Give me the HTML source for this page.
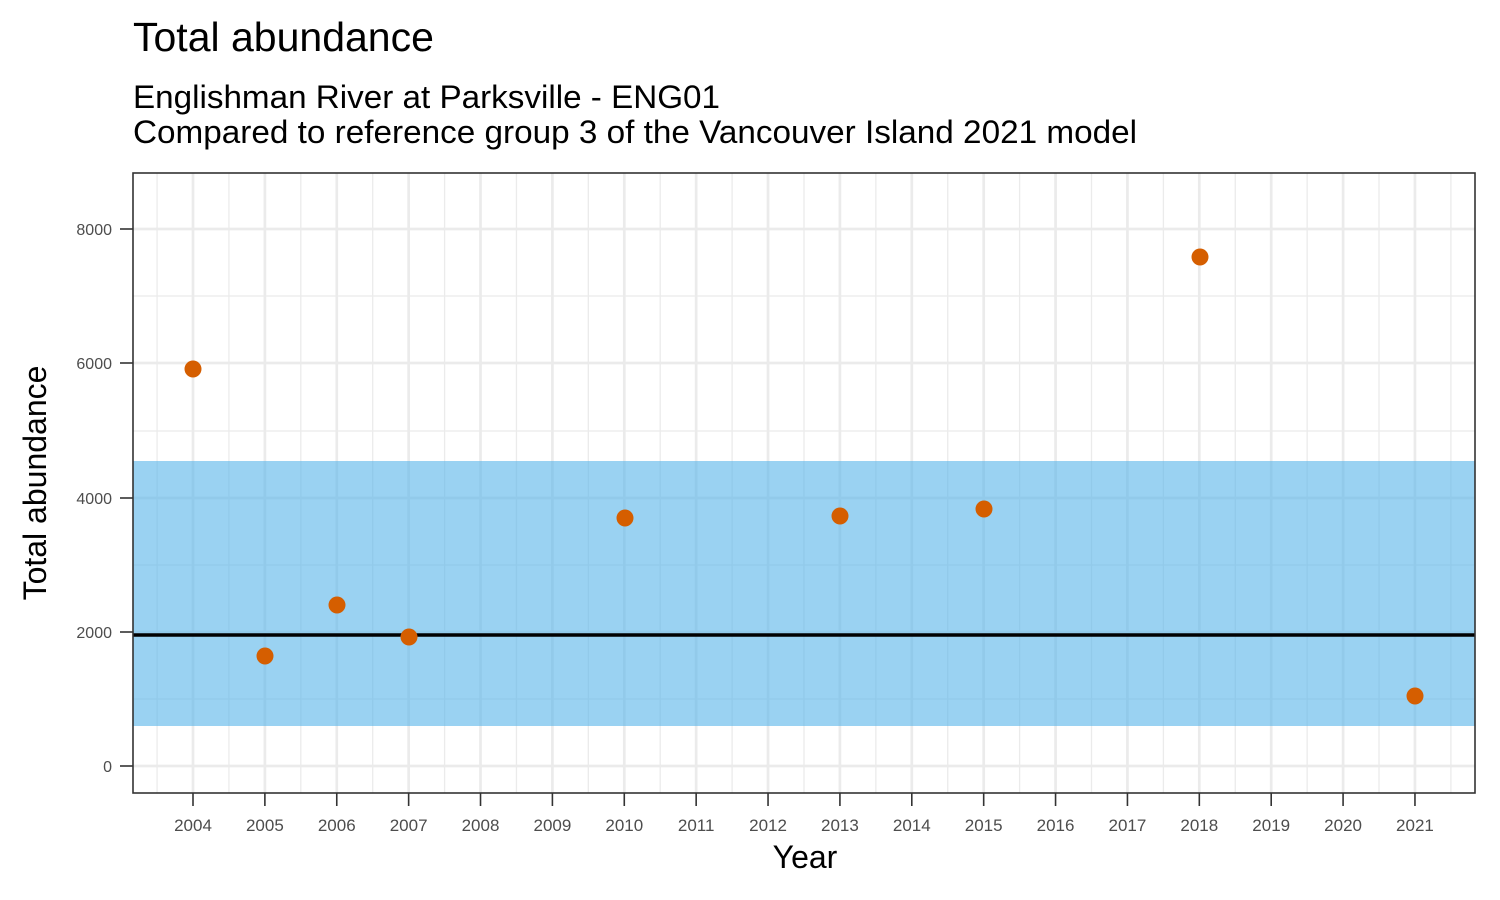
<!DOCTYPE html>
<html><head><meta charset="utf-8"><style>body{margin:0;background:#fff}svg{display:block}text{font-family:"Liberation Sans",Arial,sans-serif}</style></head>
<body>
<svg width="1500" height="900" viewBox="0 0 1500 900" xmlns="http://www.w3.org/2000/svg">
<rect width="1500" height="900" fill="#fff"/>
<text x="133" y="51" font-size="41" fill="#000">Total abundance</text>
<text x="133" y="108" font-size="32.5" fill="#000" textLength="587" lengthAdjust="spacingAndGlyphs">Englishman River at Parksville - ENG01</text>
<text x="133" y="143" font-size="32.5" fill="#000" textLength="1004" lengthAdjust="spacingAndGlyphs">Compared to reference group 3 of the Vancouver Island 2021 model</text>
<g id="grid">
<g stroke="#ebebeb" stroke-width="1.3">
<line x1="133" x2="1475" y1="699" y2="699"/><line x1="133" x2="1475" y1="565" y2="565"/><line x1="133" x2="1475" y1="431" y2="431"/><line x1="133" x2="1475" y1="296" y2="296"/>
</g>
<g stroke="#ebebeb" stroke-width="2.7">
<line x1="133" x2="1475" y1="766" y2="766"/><line x1="133" x2="1475" y1="632" y2="632"/><line x1="133" x2="1475" y1="498" y2="498"/><line x1="133" x2="1475" y1="363" y2="363"/><line x1="133" x2="1475" y1="229" y2="229"/>
</g>
<g id="vx"></g>
</g>
<rect x="133" y="461" width="1342" height="265" fill="#56b4e9" fill-opacity="0.6"/>
<line x1="133" x2="1475" y1="635" y2="635" stroke="#000" stroke-width="3.5"/>
<g fill="#d55e00">
<circle cx="193" cy="369" r="8.5"/><circle cx="265" cy="656" r="8.5"/><circle cx="337" cy="605" r="8.5"/><circle cx="409" cy="637" r="8.5"/><circle cx="625" cy="518" r="8.5"/><circle cx="840" cy="516" r="8.5"/><circle cx="984" cy="509" r="8.5"/><circle cx="1200" cy="257" r="8.5"/><circle cx="1415" cy="696" r="8.5"/>
</g>
<rect x="133" y="173" width="1342" height="620" fill="none" stroke="#333" stroke-width="1.6"/>
<g font-size="16" fill="#4d4d4d" text-anchor="end">
<text x="112" y="772">0</text><text x="112" y="638">2000</text><text x="112" y="504">4000</text><text x="112" y="369">6000</text><text x="112" y="235">8000</text>
</g>
<g stroke="#333" stroke-width="1.6">
<line x1="120" x2="133" y1="766" y2="766"/><line x1="120" x2="133" y1="632" y2="632"/><line x1="120" x2="133" y1="498" y2="498"/><line x1="120" x2="133" y1="363" y2="363"/><line x1="120" x2="133" y1="229" y2="229"/>
</g>
<g id="xt" font-size="17" fill="#4d4d4d" text-anchor="middle"></g>
<g id="xtk" stroke="#333" stroke-width="1.6"></g>
<text x="805" y="868" font-size="32" text-anchor="middle" fill="#000">Year</text>
<text transform="translate(46,483) rotate(-90)" font-size="32" text-anchor="middle" fill="#000">Total abundance</text>
<script>
var ns="http://www.w3.org/2000/svg",vx=document.getElementById("vx"),xt=document.getElementById("xt"),xtk=document.getElementById("xtk");
for(var i=-1;i<=18;i++){
 var x=193+i*71.88;
 if(i>=0&&i<=17){var l=document.createElementNS(ns,"line");l.setAttribute("x1",x);l.setAttribute("x2",x);l.setAttribute("y1",173);l.setAttribute("y2",793);l.setAttribute("stroke","#ebebeb");l.setAttribute("stroke-width","2.7");vx.appendChild(l);
 var t=document.createElementNS(ns,"text");t.setAttribute("x",x);t.setAttribute("y",831);t.textContent=2004+i;xt.appendChild(t);
 var k=document.createElementNS(ns,"line");k.setAttribute("x1",x);k.setAttribute("x2",x);k.setAttribute("y1",793);k.setAttribute("y2",806);xtk.appendChild(k);}
 var mx=x+35.94;if(mx>133&&mx<1475){var m=document.createElementNS(ns,"line");m.setAttribute("x1",mx);m.setAttribute("x2",mx);m.setAttribute("y1",173);m.setAttribute("y2",793);m.setAttribute("stroke","#ebebeb");m.setAttribute("stroke-width","1.3");vx.appendChild(m);}
}
</script>
</svg>
</body></html>
